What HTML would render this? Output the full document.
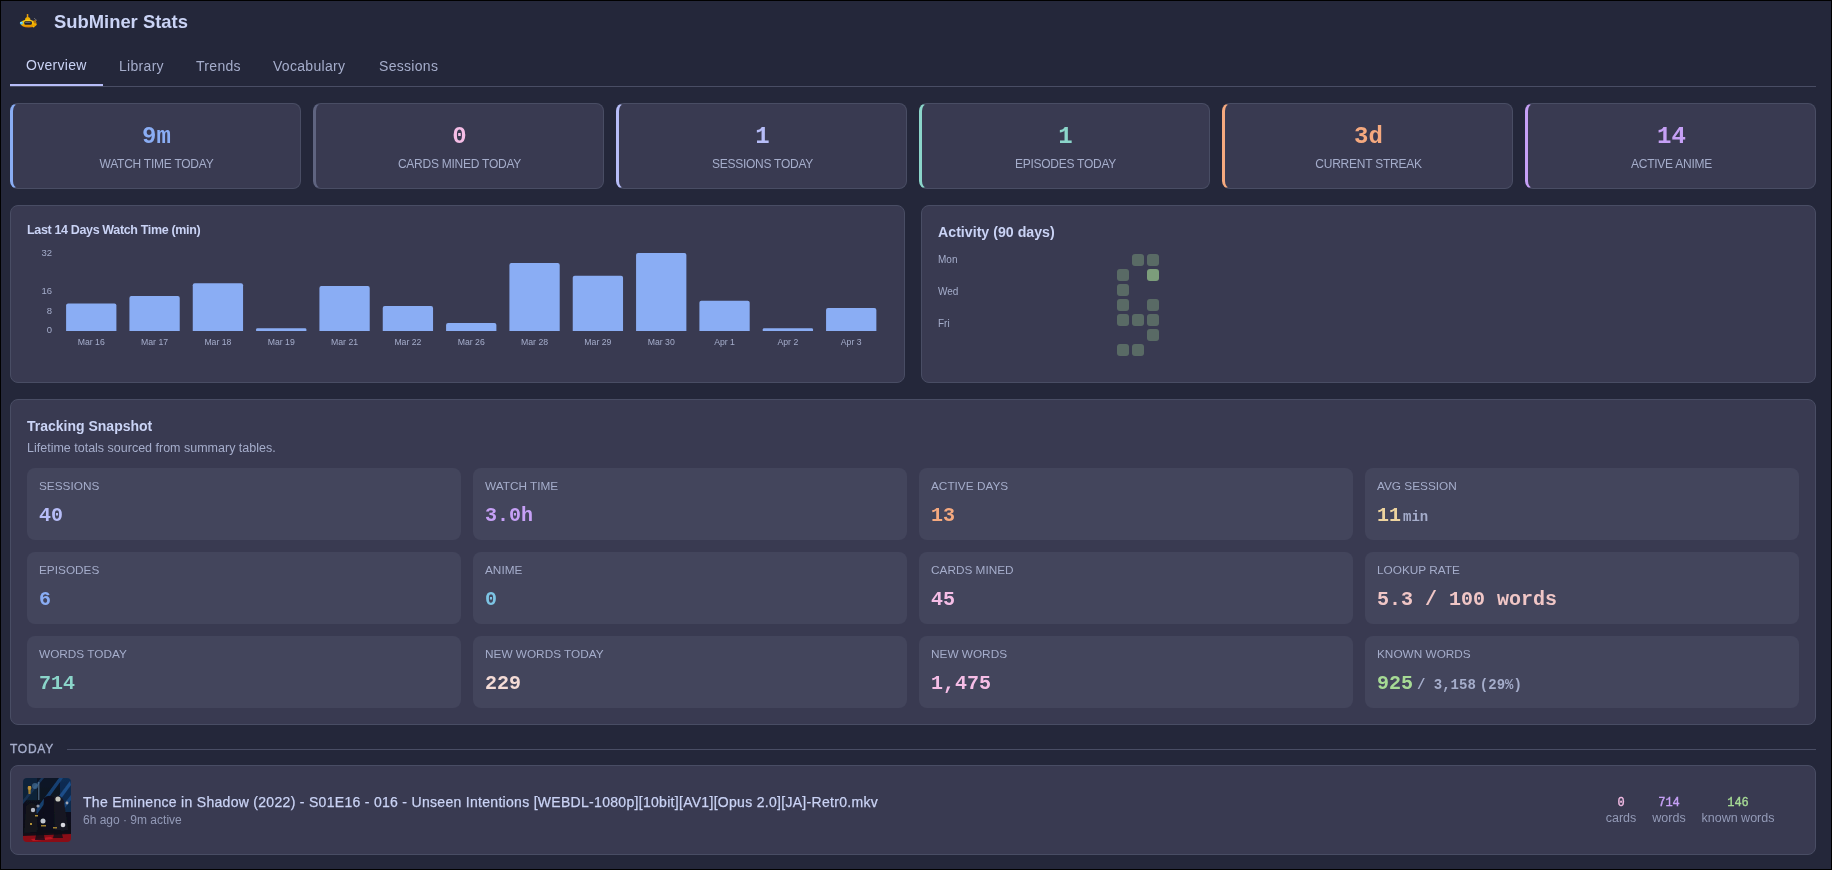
<!DOCTYPE html>
<html><head><meta charset="utf-8">
<style>
html,body{margin:0;padding:0;background:#24273a;width:1832px;height:870px;overflow:hidden}
#app{position:absolute;left:0;top:0;width:1832px;height:870px;background:#24273a;overflow:hidden;will-change:transform}
#frame{position:absolute;left:0;top:0;width:1832px;height:870px;box-sizing:border-box;border:1px solid #000;pointer-events:none}
.a{position:absolute;white-space:pre;line-height:1}
.sans{font-family:"Liberation Sans",sans-serif}
.mono{font-family:"Liberation Mono",monospace}
.card{position:absolute;box-sizing:border-box;background:#393a51;border:1px solid #494d64;border-radius:8px}
.stat{top:103px;height:86px;width:291px;border-left-width:3px}
.stat .v{position:absolute;left:0;right:0;top:21px;text-align:center;font:bold 24px/1 "Liberation Mono",monospace}
.stat .l{position:absolute;left:0;right:0;top:53.5px;text-align:center;font:12px/1 "Liberation Sans",sans-serif;letter-spacing:-0.25px;color:#a5adcb}
.tile{position:absolute;box-sizing:border-box;width:434px;height:72px;background:#43455c;border-radius:8px}
.tile .l{position:absolute;left:12px;top:13px;font:11.8px/1 "Liberation Sans",sans-serif;color:#a5adcb;white-space:pre}
.tile .v{position:absolute;left:12px;top:37.5px;font:bold 20px/1 "Liberation Mono",monospace;white-space:pre}
.tile .v small{font-size:14px;color:#a5adcb}
.tab{position:absolute;top:58.5px;font:14px/1 "Liberation Sans",sans-serif;letter-spacing:0.3px;color:#a5adcb;white-space:pre}
.ts{position:absolute;text-align:center;white-space:pre}
.ts .n{font:12px/1 "Liberation Mono",monospace;-webkit-text-stroke:0.35px currentColor;display:block}
.ts .t{font:12.5px/1 "Liberation Sans",sans-serif;color:#939ab7;display:block;margin-top:3px}
</style></head>
<body><div id="app">
<!-- header -->
<svg style="position:absolute;left:16px;top:10px" width="26" height="20" viewBox="0 0 26 20">
  <defs><linearGradient id="hg" x1="0" y1="0" x2="0" y2="1"><stop offset="0" stop-color="#ffd51c"/><stop offset="0.55" stop-color="#f5b800"/><stop offset="1" stop-color="#d87a00"/></linearGradient></defs>
  <rect x="10.8" y="3.9" width="1.5" height="3.6" rx="0.6" fill="#e39a10"/>
  <path d="M9 9.9 Q9.3 7.1 11.7 7.1 Q14.2 7.1 14.5 9.9Z" fill="#f0b000"/>
  <path d="M4.6 13.6 Q5.2 9.8 12 9.7 Q18.6 9.9 20.9 14.2 Q20 17.5 12.5 17.5 Q5.4 17.5 4.6 13.6Z" fill="url(#hg)"/>
  <rect x="8.3" y="11.3" width="7.6" height="3.4" rx="1.2" fill="#1d2030"/>
  <rect x="9.2" y="12" width="5.2" height="0.7" fill="#7d828f"/>
  <circle cx="5.4" cy="13" r="1.6" fill="#49c3f5"/>
  <circle cx="5.1" cy="12.6" r="0.6" fill="#c8f0ff"/>
  <path d="M18 8.2 L21 10.6" stroke="#6b6b70" stroke-width="1"/>
  <path d="M17.4 10.6 L19.8 10 L20.4 13.4 L17.8 13.2Z" fill="#b07010"/>
  <circle cx="17.6" cy="16.6" r="0.9" fill="#f2c200"/>
</svg>
<div class="a sans" style="left:54px;top:12.8px;font-weight:bold;font-size:18.4px;color:#cad3f5">SubMiner Stats</div>
<!-- tabs -->
<div class="tab" style="left:26px;top:57.5px;color:#cad3f5">Overview</div>
<div class="tab" style="left:119px">Library</div>
<div class="tab" style="left:196px">Trends</div>
<div class="tab" style="left:273px">Vocabulary</div>
<div class="tab" style="left:379px">Sessions</div>
<div style="position:absolute;left:10px;top:86px;width:1806px;height:1px;background:#494d64"></div>
<div style="position:absolute;left:10px;top:84px;width:93px;height:2px;background:#b7bdf8"></div>

<!-- stat cards -->
<div class="card stat" style="left:10px;border-left-color:#8aadf4"><div class="v" style="color:#8aadf4">9m</div><div class="l">WATCH TIME TODAY</div></div>
<div class="card stat" style="left:313px;border-left-color:#5f6480"><div class="v" style="color:#f5bde6">0</div><div class="l">CARDS MINED TODAY</div></div>
<div class="card stat" style="left:616px;border-left-color:#b7bdf8"><div class="v" style="color:#b7bdf8">1</div><div class="l">SESSIONS TODAY</div></div>
<div class="card stat" style="left:919px;border-left-color:#8bd5ca"><div class="v" style="color:#8bd5ca">1</div><div class="l">EPISODES TODAY</div></div>
<div class="card stat" style="left:1222px;border-left-color:#f5a97f"><div class="v" style="color:#f5a97f">3d</div><div class="l">CURRENT STREAK</div></div>
<div class="card stat" style="left:1525px;border-left-color:#c6a0f6"><div class="v" style="color:#c6a0f6">14</div><div class="l">ACTIVE ANIME</div></div>

<!-- chart panels -->
<div class="card" style="left:10px;top:205px;width:895px;height:178px"></div>
<div class="card" style="left:921px;top:205px;width:895px;height:178px"></div>
<div class="a sans" style="left:27px;top:223.6px;font-weight:bold;font-size:12.5px;letter-spacing:-0.35px;color:#cad3f5">Last 14 Days Watch Time (min)</div>
<div class="a sans" style="left:938px;top:225px;font-weight:bold;font-size:14.2px;color:#cad3f5">Activity (90 days)</div>
<div class="a sans" style="left:938px;top:255px;font-size:10px;color:#a5adcb">Mon</div>
<div class="a sans" style="left:938px;top:287px;font-size:10px;color:#a5adcb">Wed</div>
<div class="a sans" style="left:938px;top:319px;font-size:10px;color:#a5adcb">Fri</div>

<!-- snapshot -->
<div class="card" style="left:10px;top:399px;width:1806px;height:326px"></div>
<div class="a sans" style="left:27px;top:418.7px;font-weight:bold;font-size:14px;color:#cad3f5">Tracking Snapshot</div>
<div class="a sans" style="left:27px;top:441.5px;font-size:12.5px;color:#a5adcb">Lifetime totals sourced from summary tables.</div>

<div class="tile" style="left:27px;top:468px"><div class="l">SESSIONS</div><div class="v" style="color:#b7bdf8">40</div></div>
<div class="tile" style="left:473px;top:468px"><div class="l">WATCH TIME</div><div class="v" style="color:#c6a0f6">3.0h</div></div>
<div class="tile" style="left:919px;top:468px"><div class="l">ACTIVE DAYS</div><div class="v" style="color:#f5a97f">13</div></div>
<div class="tile" style="left:1365px;top:468px"><div class="l">AVG SESSION</div><div class="v" style="color:#eed49f">11<small style="margin-left:2px">min</small></div></div>

<div class="tile" style="left:27px;top:552px"><div class="l">EPISODES</div><div class="v" style="color:#8aadf4">6</div></div>
<div class="tile" style="left:473px;top:552px"><div class="l">ANIME</div><div class="v" style="color:#7dc4e4">0</div></div>
<div class="tile" style="left:919px;top:552px"><div class="l">CARDS MINED</div><div class="v" style="color:#f5bde6">45</div></div>
<div class="tile" style="left:1365px;top:552px"><div class="l">LOOKUP RATE</div><div class="v" style="color:#f0c6c6">5.3 / 100 words</div></div>

<div class="tile" style="left:27px;top:636px"><div class="l">WORDS TODAY</div><div class="v" style="color:#8bd5ca">714</div></div>
<div class="tile" style="left:473px;top:636px"><div class="l">NEW WORDS TODAY</div><div class="v" style="color:#f4dbd6">229</div></div>
<div class="tile" style="left:919px;top:636px"><div class="l">NEW WORDS</div><div class="v" style="color:#f5bde6">1,475</div></div>
<div class="tile" style="left:1365px;top:636px"><div class="l">KNOWN WORDS</div><div class="v" style="color:#a6da95">925<small style="margin-left:4px">/ 3,158</small><small style="margin-left:4px">(29%)</small></div></div>

<!-- today -->
<div class="a sans" style="left:10px;top:743px;font-size:12px;letter-spacing:0.75px;-webkit-text-stroke:0.35px #a5adcb;color:#a5adcb">TODAY</div>
<div style="position:absolute;left:67px;top:749px;width:1749px;height:1px;background:#494d64"></div>
<div class="card" style="left:10px;top:765px;width:1806px;height:90px"></div>
<svg style="position:absolute;left:23px;top:778px" width="48" height="64" viewBox="0 0 48 64">
  <defs>
    <clipPath id="tc"><rect width="48" height="64" rx="4"/></clipPath>
    <linearGradient id="tbg" x1="0" y1="0" x2="0" y2="1"><stop offset="0" stop-color="#0c1628"/><stop offset="0.5" stop-color="#0a101c"/><stop offset="0.85" stop-color="#0e1018"/><stop offset="1" stop-color="#3a0a10"/></linearGradient>
    <filter id="tb" x="-10%" y="-10%" width="120%" height="120%"><feGaussianBlur stdDeviation="0.5"/></filter>
  </defs>
  <g clip-path="url(#tc)">
  <g filter="url(#tb)">
    <rect width="48" height="64" fill="url(#tbg)"/>
    <path d="M18 0 L21 0 L0 26 L0 22Z" fill="#2d6fb8" opacity="0.35"/>
    <path d="M36 0 L40 0 L14 36 L11 34Z" fill="#2a78d0" opacity="0.45"/>
    <path d="M47 3 L48 7 L24 40 L21 38Z" fill="#3088e0" opacity="0.55"/>
    <path d="M48 17 L48 22 L31 44 L28 42Z" fill="#2070c8" opacity="0.5"/>
    <rect x="37" y="0" width="11" height="34" fill="#184a88" opacity="0.45"/>
    <rect x="0" y="0" width="14" height="22" fill="#16304e" opacity="0.5"/>
    <rect x="15" y="4" width="1.5" height="18" fill="#7aa0c0" opacity="0.5"/>
    <path d="M5 8 L8 8 L7.5 16 L5.5 16Z" fill="#b08a30" opacity="0.9"/>
    <circle cx="6.5" cy="10" r="2" fill="#d0a040" opacity="0.6"/>
    <circle cx="12" cy="8" r="3" fill="#5f98c8" opacity="0.45"/>
    <path d="M3 28 Q8 22 13 27 L15 54 L1 55Z" fill="#12141c"/>
    <path d="M21 20 Q27 15 32 21 L34 52 L19 53Z" fill="#0e111a"/>
    <path d="M31 18 Q37 15 41 23 L45 52 L32 53Z" fill="#161922"/>
    <circle cx="35" cy="21" r="2.6" fill="#c8c8c0"/>
    <circle cx="10" cy="32" r="2.2" fill="#b8bcc8"/>
    <circle cx="20" cy="43" r="2.5" fill="#c0c4d0"/>
    <circle cx="40" cy="47" r="2.3" fill="#d8d8e0"/>
    <circle cx="15" cy="28" r="1.6" fill="#8890a0"/>
    <circle cx="44" cy="25" r="1.4" fill="#a0a4b0"/>
    <rect x="12" y="37" width="3" height="1.5" fill="#b09038"/>
    <rect x="18" y="47" width="5" height="1.5" fill="#a08030"/>
    <rect x="30" y="49" width="4" height="1.5" fill="#a08030"/>
    <rect x="7" y="45" width="2" height="2" fill="#b09038"/>
    <path d="M0 58 L48 56 L48 64 L0 64Z" fill="#8a1018"/>
    <path d="M8 61 L28 59 L30 61 L10 63Z" fill="#d01828" opacity="0.7"/>
    <path d="M14 52 L20 52 L22 62 L12 62Z" fill="#0e1018" opacity="0.8"/>
    <path d="M32 52 L38 52 L40 60 L30 60Z" fill="#0e1018" opacity="0.8"/>
  </g>
  </g>
</svg>
<div class="a sans" style="left:83px;top:795px;font-size:14px;letter-spacing:0.3px;color:#cad3f5;-webkit-text-stroke:0.25px #cad3f5">The Eminence in Shadow (2022) - S01E16 - 016 - Unseen Intentions [WEBDL-1080p][10bit][AV1][Opus 2.0][JA]-Retr0.mkv</div>
<div class="a sans" style="left:83px;top:813.5px;font-size:12px;color:#939ab7">6h ago · 9m active</div>
<div class="ts" style="left:1601px;width:40px;top:797px"><span class="n" style="color:#f5bde6">0</span><span class="t">cards</span></div>
<div class="ts" style="left:1649px;width:40px;top:797px"><span class="n" style="color:#c6a0f6">714</span><span class="t">words</span></div>
<div class="ts" style="left:1698px;width:80px;top:797px"><span class="n" style="color:#a6da95">146</span><span class="t">known words</span></div>
<svg style="position:absolute;left:0;top:0" width="1832" height="870">
<g fill="#8aadf4">
<path d="M66.10 331V305.50Q66.10 303.50 68.10 303.50H114.40Q116.40 303.50 116.40 305.50V331Z"/>
<path d="M129.43 331V298.00Q129.43 296.00 131.43 296.00H177.73Q179.73 296.00 179.73 298.00V331Z"/>
<path d="M192.76 331V285.20Q192.76 283.20 194.76 283.20H241.06Q243.06 283.20 243.06 285.20V331Z"/>
<path d="M256.09 331V329.60Q256.09 328.20 257.49 328.20H304.99Q306.39 328.20 306.39 329.60V331Z"/>
<path d="M319.42 331V287.90Q319.42 285.90 321.42 285.90H367.72Q369.72 285.90 369.72 287.90V331Z"/>
<path d="M382.75 331V308.00Q382.75 306.00 384.75 306.00H431.05Q433.05 306.00 433.05 308.00V331Z"/>
<path d="M446.08 331V325.10Q446.08 323.10 448.08 323.10H494.38Q496.38 323.10 496.38 325.10V331Z"/>
<path d="M509.41 331V265.00Q509.41 263.00 511.41 263.00H557.71Q559.71 263.00 559.71 265.00V331Z"/>
<path d="M572.74 331V277.80Q572.74 275.80 574.74 275.80H621.04Q623.04 275.80 623.04 277.80V331Z"/>
<path d="M636.07 331V255.00Q636.07 253.00 638.07 253.00H684.37Q686.37 253.00 686.37 255.00V331Z"/>
<path d="M699.40 331V302.70Q699.40 300.70 701.40 300.70H747.70Q749.70 300.70 749.70 302.70V331Z"/>
<path d="M762.73 331V329.60Q762.73 328.20 764.13 328.20H811.63Q813.03 328.20 813.03 329.60V331Z"/>
<path d="M826.06 331V310.10Q826.06 308.10 828.06 308.10H874.36Q876.36 308.10 876.36 310.10V331Z"/>
</g>
<g font-family="Liberation Sans" font-size="8.7" fill="#a5adcb" text-anchor="middle">
<text x="91.25" y="344.8">Mar 16</text>
<text x="154.58" y="344.8">Mar 17</text>
<text x="217.91" y="344.8">Mar 18</text>
<text x="281.24" y="344.8">Mar 19</text>
<text x="344.57" y="344.8">Mar 21</text>
<text x="407.90" y="344.8">Mar 22</text>
<text x="471.23" y="344.8">Mar 26</text>
<text x="534.56" y="344.8">Mar 28</text>
<text x="597.89" y="344.8">Mar 29</text>
<text x="661.22" y="344.8">Mar 30</text>
<text x="724.55" y="344.8">Apr 1</text>
<text x="787.88" y="344.8">Apr 2</text>
<text x="851.21" y="344.8">Apr 3</text>
</g>
<g font-family="Liberation Sans" font-size="9.5" fill="#a5adcb" text-anchor="end">
<text x="52" y="255.5">32</text>
<text x="52" y="293.5">16</text>
<text x="52" y="313.5">8</text>
<text x="52" y="333.2">0</text>
</g>
<rect x="1132" y="254" width="12" height="12" rx="3" fill="#a6da95" fill-opacity="0.3"/>
<rect x="1147" y="254" width="12" height="12" rx="3" fill="#a6da95" fill-opacity="0.3"/>
<rect x="1117" y="269" width="12" height="12" rx="3" fill="#a6da95" fill-opacity="0.3"/>
<rect x="1147" y="269" width="12" height="12" rx="3" fill="#a6da95" fill-opacity="0.62"/>
<rect x="1117" y="284" width="12" height="12" rx="3" fill="#a6da95" fill-opacity="0.3"/>
<rect x="1117" y="299" width="12" height="12" rx="3" fill="#a6da95" fill-opacity="0.3"/>
<rect x="1147" y="299" width="12" height="12" rx="3" fill="#a6da95" fill-opacity="0.3"/>
<rect x="1117" y="314" width="12" height="12" rx="3" fill="#a6da95" fill-opacity="0.3"/>
<rect x="1132" y="314" width="12" height="12" rx="3" fill="#a6da95" fill-opacity="0.3"/>
<rect x="1147" y="314" width="12" height="12" rx="3" fill="#a6da95" fill-opacity="0.3"/>
<rect x="1147" y="329" width="12" height="12" rx="3" fill="#a6da95" fill-opacity="0.3"/>
<rect x="1117" y="344" width="12" height="12" rx="3" fill="#a6da95" fill-opacity="0.3"/>
<rect x="1132" y="344" width="12" height="12" rx="3" fill="#a6da95" fill-opacity="0.3"/>
</svg>
</div><div id="frame"></div></body></html>
